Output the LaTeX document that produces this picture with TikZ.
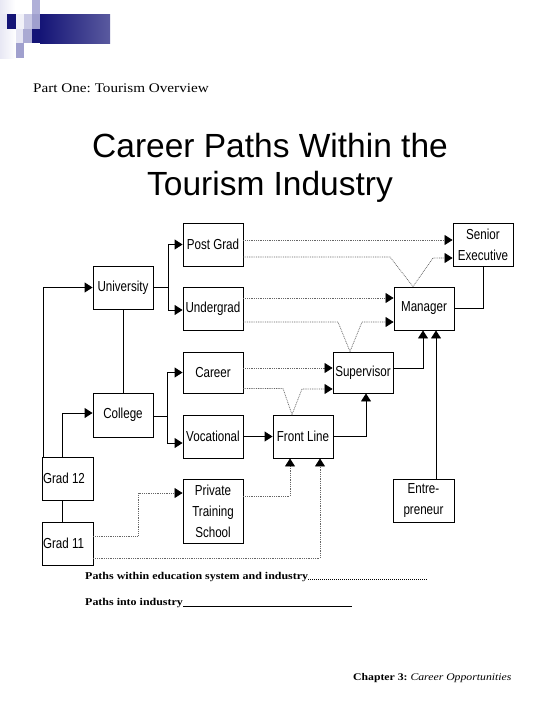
\documentclass[tikz,border=0pt]{standalone}
\usepackage{fontspec}
\setmainfont{Liberation Serif}
\newfontfamily\boxfont[FakeStretch=0.8]{Liberation Sans}
\newfontfamily\titlefont{Liberation Sans}
\newfontfamily\wideserif[FakeStretch=1.15]{Liberation Serif}
\usetikzlibrary{arrows.meta}
\definecolor{navy}{RGB}{20,20,118}
\definecolor{lavA}{RGB}{200,200,228}
\definecolor{lavB}{RGB}{160,160,206}
\definecolor{lavC}{RGB}{176,176,216}
\definecolor{paleL}{RGB}{232,232,244}
\frenchspacing
\begin{document}
\begin{tikzpicture}[x=1pt,y=-1pt,
  box/.style={draw, line width=0.9pt, minimum width=60pt, minimum height=43pt, inner sep=0pt, align=center, font=\boxfont\fontsize{14.5}{21}\selectfont},
  conn/.style={line width=0.9pt},
  arr/.style={-{Triangle[length=8pt,width=10pt]}},
  arrd/.style={-{Triangle[length=8pt,width=10pt,color=black]}},
  dots/.style={draw=black!60, line width=0.7pt, dash pattern=on 0.9pt off 0.9pt},
  txt/.style={inner sep=0pt, anchor=base west}
]
\useasboundingbox (0,0) rectangle (540,720);
% decoration
\shade[left color=paleL, right color=white] (0,0) rectangle (15,14);
\fill[lavC] (32,0) rectangle (40,14);
\fill[paleL] (0,14) rectangle (7,29);
\fill[navy] (7,14) rectangle (16,29);
\fill[paleL!60] (16,14) rectangle (24,29);
\fill[lavA] (24,14) rectangle (32,29);
\fill[lavB] (32,14) rectangle (40,29);
\shade[left color=paleL, right color=white] (0,29) rectangle (16,58);
\fill[paleL!90!lavA] (16,29) rectangle (23,43);
\fill[lavB!90] (23,29) rectangle (32,43);
\fill[lavB] (16,43) rectangle (24,58);
\fill[navy] (32,29) rectangle (40,43);
\shade[left color=navy, right color=navy!70!white] (40,14) rectangle (110,43);
% texts
\node[txt, font=\wideserif\fontsize{13.2}{15}\selectfont] (part) at (33,92) {Part One: Tourism Overview};
\node[inner sep=0pt, anchor=base, font=\titlefont\fontsize{33.5}{38}\selectfont] (title1) at (270,157) {Career Paths Within the};
\node[inner sep=0pt, anchor=base, font=\titlefont\fontsize{33.5}{38}\selectfont] (title2) at (270,195) {Tourism Industry};
% boxes
\node[box] (postgrad) at (213,244.5) {Post Grad};
\node[box] (undergrad) at (213,308.5) {Undergrad};
\node[box] (university) at (123,287.5) {University};
\node[box, minimum height=44pt] (college) at (123,415) {College};
\node[box, minimum height=41pt] (career) at (213,372.5) {Career};
\node[box] (vocational) at (213,436.5) {Vocational};
\node[box] (frontline) at (303,436.5) {Front Line};
\node[box, minimum height=41pt] (supervisor) at (363,372.5) {Supervisor};
\node[box] (manager) at (424,308.5) {Manager};
\node[box] (senior) at (483,244.5) {Senior\\Executive};
\node[box, minimum width=51pt, text width=49pt, align=flush left] (grad12) at (67.5,478.5) {Grad 12};
\node[box, minimum width=51pt, text width=49pt, align=flush left] (grad11) at (67.5,543.5) {Grad 11};
\node[box, minimum height=64pt] (private) at (213,511) {Private\\Training\\School};
\node[box, minimum width=61pt] (entre) at (423.5,500.5) {Entre-\\preneur};
% solid connectors
\coordinate (bu) at (168,287.5);
\coordinate (bc) at (167,416);
\draw[conn] (university.east) -- (bu);
\draw[conn,arr] (bu) |- (postgrad.west);
\draw[conn,arr] (bu) |- ([yshift=-1.5pt]undergrad.west);
\draw[conn] ([yshift=-1pt]college.east) -- (bc);
\draw[conn,arr] (bc) |- (career.west);
\draw[conn,arr] (bc) |- ([yshift=-6.5pt]vocational.west);
\draw[conn,arr] ([xshift=2pt]grad12.north west) |- (university.west);
\draw[conn,arr] ([xshift=-5.5pt]grad12.north) |- ([yshift=2pt]college.west);
\draw[conn] ([xshift=-5.5pt]grad11.north) -- ([xshift=-5.5pt]grad12.south);
\draw[conn] (university.south) -- (college.north);
\draw[conn,arr] (vocational.east) -- (frontline.west);
\draw[conn,arr] (frontline.east) -| ([xshift=3pt]supervisor.south);
\draw[conn,arr] ([yshift=4.5pt]supervisor.east) -| ([xshift=-1pt]manager.south);
\draw[conn,arr] ([xshift=12.5pt]entre.north) -- ([xshift=12pt]manager.south);
\draw[conn] (manager.east) -| (senior.south);
% dotted connectors
\draw[dots,arrd] ([yshift=4.5pt]postgrad.east) -- ([yshift=4.5pt]senior.west);
\draw[dots,arrd] ([yshift=-12.5pt]postgrad.east) -- (390,257) -- ([xshift=-11pt]manager.north) -- (433,258) -- ([yshift=-13.5pt]senior.west);
\draw[dots,arrd] ([yshift=10.5pt]undergrad.east) -- ([yshift=10.5pt]manager.west);
\draw[dots,arrd] ([yshift=-13.5pt]undergrad.east) -- (338,322) -- ([xshift=-13pt]supervisor.north) -- (362,322) -- ([yshift=-13.5pt]manager.west);
\draw[dots,arrd] ([yshift=4.5pt]career.east) -- ([yshift=4.5pt]supervisor.west);
\draw[dots,arrd] ([yshift=-16pt]career.east) -- (283,388.5) -- ([xshift=-11pt]frontline.north) -- (302,389) -- ([yshift=-16.5pt]supervisor.west);
\draw[dots,arrd] ([yshift=15pt]private.east) -| ([xshift=-13pt]frontline.south);
\draw[dots,arrd] ([yshift=7.5pt]grad11.east) -- (138,536) |- ([yshift=18pt]private.west);
\draw[dots,arrd] ([yshift=-14.5pt]grad11.east) -| ([xshift=17pt]frontline.south);
% legend
\node[txt, font=\wideserif\bfseries\fontsize{10.4}{12}\selectfont] (leg1) at (85,579) {Paths within education system and industry};
\coordinate (legdots) at (428,579);
\draw[line width=0.5pt, dash pattern=on 0.6pt off 1.4pt] (leg1.base east) -- (legdots);
\node[txt, font=\wideserif\bfseries\fontsize{10.4}{12}\selectfont] (leg2) at (85,605) {Paths into industry};
\coordinate (legline) at (352,606);
\draw[line width=0.7pt] ([yshift=-1pt]leg2.base east) -- (legline);
\node[txt, font=\wideserif\fontsize{10.2}{12}\selectfont] (chap) at (353,680) {\textbf{Chapter 3:} \textit{Career Opportunities}};
\end{tikzpicture}
\end{document}
